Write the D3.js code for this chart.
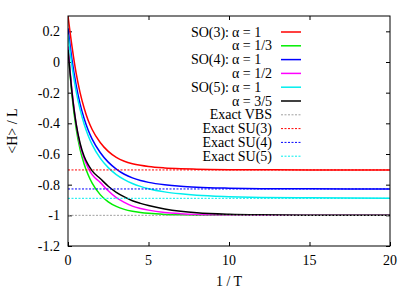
<!DOCTYPE html>
<html>
<head>
<meta charset="utf-8">
<script src="https://cdn.jsdelivr.net/npm/d3@7"></script>
<style>
  html, body { margin: 0; padding: 0; background: #fff; }
</style>
</head>
<body>
<div id="chart"></div>
<script>
// inverse temperature samples
const invT = [0, 0.25, 0.5, 0.75, 1, 1.25, 1.5, 2, 2.5, 3, 3.5, 4, 4.5, 5, 6, 7, 8, 10, 12, 15, 20];

// <H>/L for each run
const so3a1  = [0.30, 0.10, -0.07, -0.20, -0.30, -0.38, -0.44, -0.525, -0.583, -0.622, -0.647, -0.663, -0.674, -0.682, -0.691, -0.696, -0.699, -0.702, -0.703, -0.704, -0.704];
const so3a13 = [0.10, -0.22, -0.43, -0.57, -0.665, -0.735, -0.79, -0.865, -0.912, -0.942, -0.961, -0.973, -0.981, -0.987, -0.994, -0.997, -0.999, -1.0, -1.0, -1.0, -1.0];
const so4a1  = [0.22, 0.012, -0.148, -0.273, -0.368, -0.443, -0.503, -0.59, -0.653, -0.698, -0.732, -0.756, -0.773, -0.785, -0.801, -0.811, -0.817, -0.823, -0.826, -0.827, -0.828];
const so4a12 = [0.10, -0.19, -0.40, -0.54, -0.63, -0.69, -0.735, -0.785, -0.84, -0.885, -0.915, -0.94, -0.955, -0.966, -0.981, -0.989, -0.994, -0.998, -0.999, -1.0, -1.0];
const so5a1  = [0.18, -0.029, -0.189, -0.309, -0.404, -0.479, -0.539, -0.627, -0.689, -0.734, -0.767, -0.792, -0.811, -0.826, -0.847, -0.86, -0.869, -0.878, -0.883, -0.886, -0.888];
const so5a35 = [0.08, -0.20, -0.40, -0.53, -0.615, -0.67, -0.71, -0.76, -0.81, -0.85, -0.88, -0.905, -0.922, -0.936, -0.958, -0.973, -0.983, -0.993, -0.997, -0.999, -1.0];

// exact ground state energies
const exactVBS = -1.0;
const exactSU3 = -0.704;
const exactSU4 = -0.828;
const exactSU5 = -0.889;

const xTicks = [0, 5, 10, 15, 20];
const yTicks = [0.2, 0, -0.2, -0.4, -0.6, -0.8, -1, -1.2];

const series = [
  { pre: 'SO(3):', label: 'α = 1',   vals: so3a1,  color: '#ff0000' },
  { pre: '',       label: 'α = 1/3', vals: so3a13, color: '#00ee00' },
  { pre: 'SO(4):', label: 'α = 1',   vals: so4a1,  color: '#0000ff' },
  { pre: '',       label: 'α = 1/2', vals: so4a12, color: '#ff00ff' },
  { pre: 'SO(5):', label: 'α = 1',   vals: so5a1,  color: '#00eeee' },
  { pre: '',       label: 'α = 3/5', vals: so5a35, color: '#000000' }
];
const exacts = [
  { label: 'Exact VBS',   val: exactVBS, color: '#a0a0a0' },
  { label: 'Exact SU(3)', val: exactSU3, color: '#ff0000' },
  { label: 'Exact SU(4)', val: exactSU4, color: '#0000ff' },
  { label: 'Exact SU(5)', val: exactSU5, color: '#00eeee' }
];

const width = 415, height = 291;
const margin = { top: 16, right: 25, bottom: 45, left: 68 };
const serif = '"Liberation Serif", "Times New Roman", Tinos, "DejaVu Serif", "Noto Serif", serif';

const svg = d3.select('#chart').append('svg')
  .attr('width', width)
  .attr('height', height)
  .attr('font-family', serif)
  .attr('font-size', 14);

const x = d3.scaleLinear().domain([0, 20]).range([margin.left, width - margin.right]);
const y = d3.scaleLinear().domain([-1.2, 0.3]).range([height - margin.bottom, margin.top]);

svg.append('clipPath').attr('id', 'clip')
  .append('rect')
    .attr('x', x(0)).attr('y', y(0.3))
    .attr('width', x(20) - x(0)).attr('height', y(-1.2) - y(0.3));

// ticks, inward and mirrored
const tl = 4;
const axes = svg.append('g');
axes.append('g').attr('transform', `translate(0,${y(-1.2)})`)
  .call(d3.axisBottom(x).tickValues(xTicks).tickSize(-tl).tickFormat(''))
  .call(g => g.select('.domain').remove());
axes.append('g').attr('transform', `translate(0,${y(0.3)})`)
  .call(d3.axisTop(x).tickValues(xTicks.slice(1, -1)).tickSize(-tl).tickFormat(''))
  .call(g => g.select('.domain').remove());
axes.append('g').attr('transform', `translate(${x(0)},0)`)
  .call(d3.axisLeft(y).tickValues(yTicks).tickSize(-tl).tickFormat(''))
  .call(g => g.select('.domain').remove());
axes.append('g').attr('transform', `translate(${x(20)},0)`)
  .call(d3.axisRight(y).tickValues(yTicks).tickSize(-tl).tickFormat(''))
  .call(g => g.select('.domain').remove());
axes.selectAll('line').attr('stroke', '#000');

// tick labels
svg.append('g').selectAll('text')
  .data(xTicks)
  .join('text')
    .attr('x', d => x(d))
    .attr('y', y(-1.2) + 19)
    .attr('text-anchor', 'middle')
    .text(d => d);
svg.append('g').selectAll('text')
  .data(yTicks)
  .join('text')
    .attr('x', x(0) - 8)
    .attr('y', d => y(d) + 5)
    .attr('text-anchor', 'end')
    .text(d => String(+d.toFixed(1)));

// axis titles
svg.append('text')
  .attr('x', (x(0) + x(20)) / 2)
  .attr('y', 286)
  .attr('text-anchor', 'middle')
  .text('1 / T');
svg.append('text')
  .attr('transform', `translate(17,${(y(-1.2) + y(0.3)) / 2}) rotate(-90)`)
  .attr('text-anchor', 'middle')
  .text('<H> / L');

// curves
const line = d3.line()
  .x((d, i) => x(invT[i]))
  .y(d => y(d))
  .curve(d3.curveMonotoneX);

const plot = svg.append('g').attr('clip-path', 'url(#clip)');
plot.selectAll('path.run')
  .data(series)
  .join('path')
    .attr('class', 'run')
    .attr('fill', 'none')
    .attr('stroke', d => d.color)
    .attr('stroke-width', 1.5)
    .attr('d', d => line(d.vals));

plot.selectAll('line.exact')
  .data(exacts)
  .join('line')
    .attr('class', 'exact')
    .attr('x1', x(0)).attr('x2', x(20))
    .attr('y1', d => y(d.val)).attr('y2', d => y(d.val))
    .attr('stroke', d => d.color)
    .attr('stroke-width', 1)
    .attr('stroke-dasharray', '2,1.5');

// key
const rowY = i => 32 + i * 13.8;
const key = svg.append('g');
series.forEach((s, i) => {
  if (s.pre) {
    key.append('text').attr('x', 229).attr('y', rowY(i) + 4.5)
      .attr('text-anchor', 'end').text(s.pre);
  }
  key.append('text').attr('x', 232).attr('y', rowY(i) + 4.5).text(s.label);
  key.append('line')
    .attr('x1', 281).attr('x2', 301)
    .attr('y1', rowY(i)).attr('y2', rowY(i))
    .attr('stroke', s.color).attr('stroke-width', 1.5);
});
exacts.forEach((e, j) => {
  const i = j + series.length;
  key.append('text').attr('x', 272).attr('y', rowY(i) + 4.5)
    .attr('text-anchor', 'end').text(e.label);
  key.append('line')
    .attr('x1', 281).attr('x2', 301)
    .attr('y1', rowY(i)).attr('y2', rowY(i))
    .attr('stroke', e.color).attr('stroke-width', 1)
    .attr('stroke-dasharray', '2,1.5');
});

// frame
svg.append('rect')
  .attr('x', x(0)).attr('y', y(0.3))
  .attr('width', x(20) - x(0)).attr('height', y(-1.2) - y(0.3))
  .attr('fill', 'none')
  .attr('stroke', '#000')
  .attr('stroke-width', 1);
</script>
</body>
</html>
